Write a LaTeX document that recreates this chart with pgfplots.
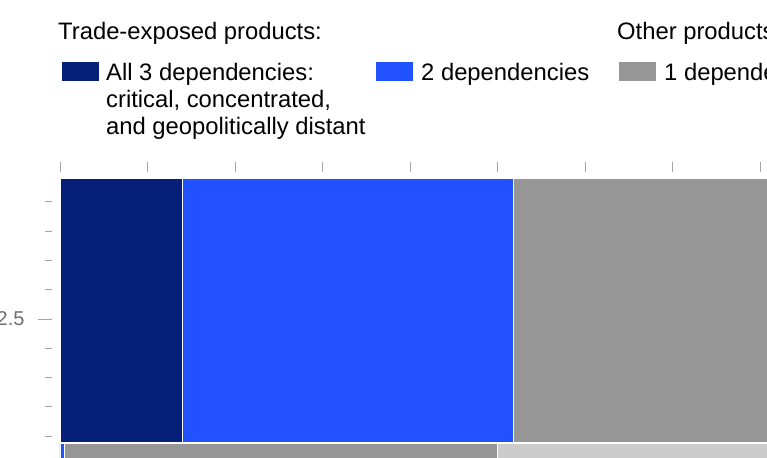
\documentclass[border=0pt]{standalone}
\usepackage{pgfplots}
\pgfplotsset{compat=1.18}
\usepackage{fontspec}
\setmainfont{Liberation Sans}

\definecolor{navy}{RGB}{6,31,121}
\definecolor{electric}{RGB}{34,81,255}
\definecolor{midgray}{RGB}{150,150,150}
\definecolor{lightgray}{RGB}{204,204,204}
\definecolor{tickgray}{RGB}{165,165,165}
\definecolor{labelgray}{RGB}{110,110,110}

\begin{document}
\begin{tikzpicture}
\path[use as bounding box, clip] (0pt,0pt) rectangle (767pt,457pt);

% legend, set by hand (y = 457 - pixel row)
\begin{scope}[every node/.style={inner sep=0pt, anchor=base west,
    font=\fontsize{23.8pt}{27pt}\selectfont}]
\node at (58pt,417pt) {Trade-exposed products:};
\node at (617pt,417pt) {Other products:};
\fill[navy] (62pt,376pt) rectangle (99pt,395pt);
\node at (106pt,376pt) {All 3 dependencies:};
\node at (106pt,349pt) {critical, concentrated,};
\node at (106pt,322pt) {and geopolitically distant};
\fill[electric] (376pt,376pt) rectangle (413pt,395pt);
\node at (421pt,376pt) {2 dependencies};
\fill[midgray] (619pt,376pt) rectangle (656pt,395pt);
\node at (664pt,376pt) {1 dependency};
\end{scope}

\begin{axis}[
at={(52pt,284.5pt)},
anchor=north west,
x=87.5pt, y=293pt,
xmin=-0.0914, xmax=8.3,
ymin=1.5, ymax=3.0,
xbar stacked,
bar width=0.901,
axis line style={draw=none},
tick align=outside,
xtick pos=right,
ytick pos=left,
xtick={0,1,2,3,4,5,6,7,8},
xticklabels={},
ytick={2.5},
minor ytick={2.1,2.2,2.3,2.4,2.6,2.7,2.8,2.9},
xtick style={draw=tickgray, line width=0.8pt, /pgfplots/major tick length=10pt},
ytick style={draw=tickgray, line width=0.8pt, /pgfplots/major tick length=14pt},
minor tick length=7.5pt,
/pgf/number format/assume math mode=true,
yticklabel style={font=\fontsize{20pt}{21pt}\selectfont, text=labelgray,
  anchor=east, inner sep=0pt, xshift=-23pt},
every axis plot/.append style={draw=white, line width=0.9pt},
]
\addplot[fill=navy] coordinates {(1.394,2.5307) (0,1.6246)};
\addplot[fill=electric] coordinates {(3.783,2.5307) (0.051,1.6246)};
\addplot[fill=midgray] coordinates {(4.0,2.5307) (4.949,1.6246)};
\addplot[fill=lightgray] coordinates {(0,2.5307) (4.0,1.6246)};
\end{axis}
\end{tikzpicture}
\end{document}
